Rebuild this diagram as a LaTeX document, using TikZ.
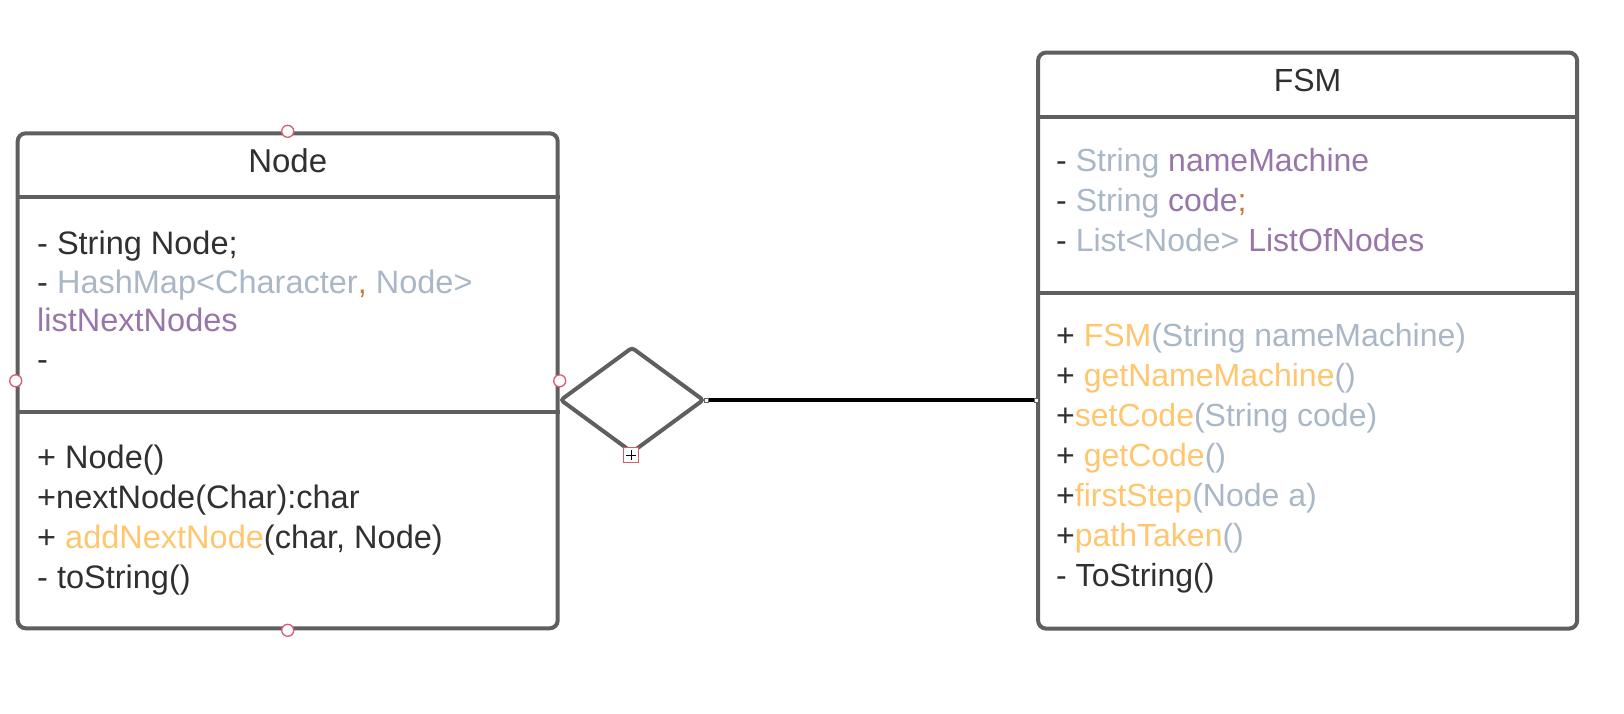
\documentclass[tikz,border=0pt]{standalone}
\usepackage{xcolor}
\usepackage{fontspec}
\setmainfont{Liberation Sans}
\usepackage{tikz}
\usetikzlibrary{calc}
\usetikzlibrary{shapes.geometric}

\definecolor{boxgray}{HTML}{5F5F5F}
\definecolor{ink}{HTML}{303030}
\definecolor{typ}{HTML}{A9B7C6}
\definecolor{fld}{HTML}{9876AA}
\definecolor{mth}{HTML}{FFC66D}
\definecolor{punc}{HTML}{CC7832}
\definecolor{handle}{HTML}{DD5A6C}

\tikzset{
	classbox/.style={rectangle,draw=boxgray,line width=4pt,rounded corners=8pt,inner sep=0pt},
	member/.style={anchor=base west,inner sep=0pt,text=ink,font=\fontsize{32}{40}\selectfont},
	bigmember/.style={member,font=\fontsize{32.5}{40}\selectfont},
	title/.style={member,anchor=base},
	pin/.style={draw=handle,fill=white,line width=1.3pt},
	grip/.style={rectangle,draw=boxgray,fill=white,line width=0.8pt,minimum size=4pt,inner sep=0pt},
}

\begin{document}
\begin{tikzpicture}[x=1pt,y=-1pt]
	\useasboundingbox (0,0) rectangle (1624,713);
	% class Node
	\node[classbox,minimum width=540pt,minimum height=495pt] (ncls) at (287.7,380.8) {};
	\draw[boxgray,line width=4pt] (ncls.west |- 0,197.3) -- (ncls.east |- 0,197.3);
	\draw[boxgray,line width=4pt] (ncls.west |- 0,412.3) -- (ncls.east |- 0,412.3);
	\node[title,font=\fontsize{33}{40}\selectfont] (ntitle) at (287.7,172.3) {Node};
	\node[bigmember] (nattr1) at (37,254) {- String Node;};
	\node[bigmember] (nattr2) at (37,293.3) {- \textcolor{typ}{HashMap<Character}\textcolor{punc}{,} \textcolor{typ}{Node>}};
	\node[bigmember] (nattr3) at (37,331.7) {\textcolor{fld}{listNextNodes}};
	\node[bigmember] (nattr4) at (37,370.5) {-};
	\node[bigmember] (nop1) at (37,468.3) {+ Node()};
	\node[bigmember] (nop2) at (37,508.3) {+nextNode(Char):char};
	\node[bigmember] (nop3) at (37,548.3) {+ \textcolor{mth}{addNextNode}(char, Node)};
	\node[bigmember] (nop4) at (37,588.3) {- toString()};
	\draw[pin] (ncls.north) circle (6pt);
	\draw[pin] (ncls.south) circle (6pt);
	\draw[pin] (ncls.west) circle (6pt);
	\draw[pin] (ncls.east) circle (6pt);

	% class FSM
	\node[classbox,minimum width=539pt,minimum height=576pt] (fsm) at (1307.6,340.6) {};
	\draw[boxgray,line width=4pt] (fsm.west |- 0,116.7) -- (fsm.east |- 0,116.7);
	\draw[boxgray,line width=4pt] (fsm.west |- 0,293.3) -- (fsm.east |- 0,293.3);
	\node[title] (ftitle) at (1307.6,91.7) {FSM};
	\node[member] (fattr1) at (1056,171.7) {- \textcolor{typ}{String} \textcolor{fld}{nameMachine}};
	\node[member] (fattr2) at (1056,211.7) {- \textcolor{typ}{String} \textcolor{fld}{code}\textcolor{punc}{;}};
	\node[member] (fattr3) at (1056,251.7) {- \textcolor{typ}{List<Node>} \textcolor{fld}{ListOfNodes}};
	\node[member] (fop1) at (1056,346.7) {+ \textcolor{mth}{FSM}\textcolor{typ}{(String nameMachine)}};
	\node[member] (fop2) at (1056,386.7) {+ \textcolor{mth}{getNameMachine}\textcolor{typ}{()}};
	\node[member] (fop3) at (1056,426.7) {+\textcolor{mth}{setCode}\textcolor{typ}{(String code)}};
	\node[member] (fop4) at (1056,466.7) {+ \textcolor{mth}{getCode}\textcolor{typ}{()}};
	\node[member] (fop5) at (1056,506.7) {+\textcolor{mth}{firstStep}\textcolor{typ}{(Node a)}};
	\node[member] (fop6) at (1056,546.7) {+\textcolor{mth}{pathTaken}\textcolor{typ}{()}};
	\node[member] (fop7) at (1056,586.7) {- ToString()};

	% aggregation
	\node[diamond,draw=boxgray,line width=4pt,rounded corners=3pt,minimum width=144pt,minimum height=106pt,inner sep=0pt] (agg) at (632,400) {};
	\coordinate (aggend) at (agg.east -| fsm.west);
	\draw[line width=4pt] (agg.east) -- (aggend);
	\node[grip] (grip1) at (agg.east) {};
	\node[grip] (grip2) at (aggend) {};
	\node[pin,rectangle,minimum size=15pt,inner sep=0pt] (aggpin) at (631,455) {};
	\draw[black,line width=1pt] ($(aggpin.center)+(-5,0)$) -- ($(aggpin.center)+(5,0)$);
	\draw[black,line width=1pt] ($(aggpin.center)+(0,-5)$) -- ($(aggpin.center)+(0,5)$);
\end{tikzpicture}
\end{document}
